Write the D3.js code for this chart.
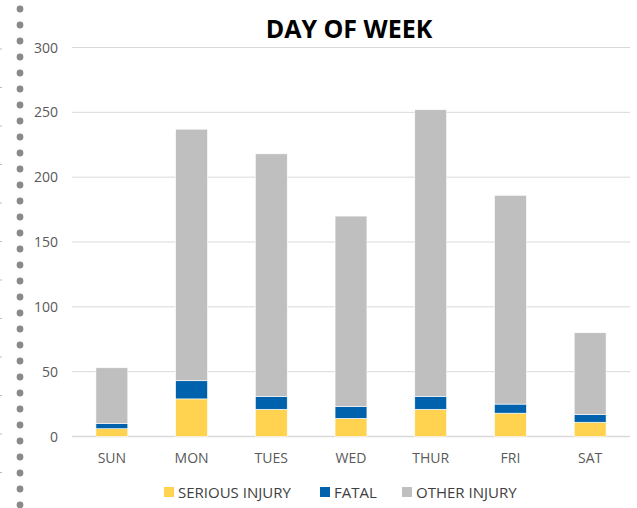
<!DOCTYPE html>
<html>
<head>
<meta charset="utf-8">
<script src="https://cdn.jsdelivr.net/npm/d3@7"></script>
<style>
  body { margin: 0; background: #fff; }
  text { font-family: "Open Sans", "DejaVu Sans", sans-serif; }
</style>
</head>
<body>
<script>
  // chart values
  var days = ["SUN", "MON", "TUES", "WED", "THUR", "FRI", "SAT"];
  var serious = [6, 29, 21, 14, 21, 18, 11];
  var fatal = [4, 14, 10, 9, 10, 7, 6];
  var other = [43, 194, 187, 147, 221, 161, 63];
  var yTicks = [0, 50, 100, 150, 200, 250, 300];
  var seriesNames = ["SERIOUS INJURY", "FATAL", "OTHER INJURY"];
  var seriesColors = ["#FFD34F", "#0062AC", "#BFBFBF"];

  var W = 637, H = 508;
  var svg = d3.select("body").append("svg")
      .attr("width", W).attr("height", H);

  // dotted border down the left side
  var dots = d3.range(9, 508, 16);
  svg.selectAll("circle.dot").data(dots).enter().append("circle")
      .attr("class", "dot")
      .attr("cx", 20).attr("cy", function (d) { return d; })
      .attr("r", 3.4).attr("fill", "#8a8a8a");
  svg.selectAll("line.edge").data(d3.range(49, 508, 38.5)).enter().append("line")
      .attr("class", "edge")
      .attr("x1", 0).attr("x2", 2)
      .attr("y1", function (d) { return d; }).attr("y2", function (d) { return d; })
      .attr("stroke", "#bbb").attr("stroke-width", 1);

  var rows = days.map(function (d, i) {
    return { day: d, serious: serious[i], fatal: fatal[i], other: other[i] };
  });
  var stack = d3.stack().keys(["serious", "fatal", "other"])(rows);

  var x = d3.scaleBand().domain(days).range([72, 630]).paddingInner(0.6).paddingOuter(0.3);
  var y = d3.scaleLinear().domain([0, 300]).range([436.5, 47.5]);

  // gridlines
  svg.selectAll("line.grid").data(yTicks).enter().append("line")
      .attr("class", "grid")
      .attr("x1", 72).attr("x2", 630)
      .attr("y1", function (d) { return y(d); }).attr("y2", function (d) { return y(d); })
      .attr("stroke", "#d9d9d9").attr("stroke-width", function (d) { return d === 0 ? 1.5 : 1; });

  svg.selectAll("text.ytick").data(yTicks).enter().append("text")
      .attr("class", "ytick")
      .attr("x", 58).attr("y", function (d) { return y(d) + 5; })
      .attr("text-anchor", "end")
      .attr("font-size", 14).attr("fill", "#595959")
      .text(function (d) { return d; });

  // stacked bars
  svg.selectAll("g.layer").data(stack).enter().append("g")
      .attr("class", "layer")
      .attr("fill", function (d, i) { return seriesColors[i]; })
    .selectAll("rect").data(function (d) { return d; }).enter().append("rect")
      .attr("x", function (d) { return x(d.data.day); })
      .attr("width", x.bandwidth())
      .attr("y", function (d) { return y(d[1]); })
      .attr("height", function (d) { return y(d[0]) - y(d[1]); })
      .attr("stroke", "#fff").attr("stroke-width", 0.6);

  svg.selectAll("text.xtick").data(days).enter().append("text")
      .attr("class", "xtick")
      .attr("x", function (d) { return x(d) + x.bandwidth() / 2; })
      .attr("y", 463)
      .attr("text-anchor", "middle")
      .attr("font-size", 14).attr("fill", "#595959")
      .text(function (d) { return d; });

  // title
  svg.append("text")
      .attr("x", 349).attr("y", 38)
      .attr("text-anchor", "middle")
      .attr("font-size", 25).attr("font-weight", "bold").attr("fill", "#000")
      .text("DAY OF WEEK");

  // legend
  var legendX = [164, 320, 402];
  var leg = svg.selectAll("g.leg").data(seriesNames).enter().append("g")
      .attr("class", "leg")
      .attr("transform", function (d, i) { return "translate(" + legendX[i] + ",487)"; });
  leg.append("rect").attr("width", 10).attr("height", 10)
      .attr("fill", function (d, i) { return seriesColors[i]; });
  leg.append("text").attr("x", 14).attr("y", 11)
      .attr("font-size", 15).attr("fill", "#404040")
      .text(function (d) { return d; });
</script>
</body>
</html>
